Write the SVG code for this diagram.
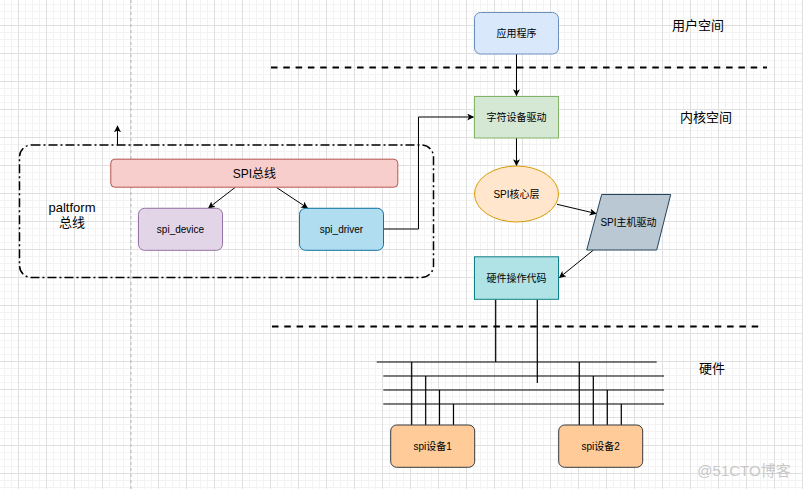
<svg xmlns="http://www.w3.org/2000/svg" width="803" height="489" viewBox="0 0 803 489">
<style>
text{font-family:"Liberation Sans","Noto Sans CJK SC",Arial,sans-serif;fill:#000;text-anchor:middle;dominant-baseline:central}
.s10{font-size:10px}
.s12{font-size:12px}
.s13{font-size:13px}
.conn{fill:none;stroke:#000;stroke-width:1}
.wire{fill:none;stroke:#000;stroke-width:1.2}
.sep{fill:none;stroke:#000;stroke-width:2.2;stroke-dasharray:6.5 5.8}
</style>
<defs>
<pattern id="grid" x="18" y="25" width="28" height="28" patternUnits="userSpaceOnUse">
<path d="M7.5 0V28M14.5 0V28M21.5 0V28M0 7.5H28M0 14.5H28M0 21.5H28" stroke="#f3f3f3" stroke-width="1" fill="none"/>
<path d="M0.5 0V28M0 0.5H28" stroke="#e0e0e0" stroke-width="1" fill="none"/>
</pattern>
<marker id="arr" viewBox="0 0 10 10" refX="9" refY="5" markerWidth="7" markerHeight="7" orient="auto" markerUnits="userSpaceOnUse">
<path d="M0 0L10 5L0 10L2.5 5Z" fill="#000"/>
</marker>
</defs>
<rect width="803" height="489" fill="#fff"/>
<rect width="803" height="489" fill="url(#grid)"/>
<line x1="131" y1="0" x2="131" y2="489" stroke="#b8b8b8" stroke-width="1" stroke-dasharray="3 3"/>

<g id="separators">
<line class="sep" x1="271" y1="67.5" x2="767" y2="67.5"/>
<line class="sep" x1="272" y1="326.5" x2="759" y2="326.5"/>
</g>

<g id="platform-group">
<rect x="19.5" y="145" width="414" height="132.5" rx="12" fill="none" stroke="#000" stroke-width="1.5" stroke-dasharray="9 3 2 3"/>
<text class="s13" x="72" y="207">paltform</text>
<text class="s13" x="72" y="222">总线</text>
</g>

<g id="labels">
<text class="s13" x="698" y="25">用户空间</text>
<text class="s13" x="706" y="117">内核空间</text>
<text class="s13" x="712" y="368">硬件</text>
<text x="744" y="470" style="font-size:15px;fill:#c8c8c8">@51CTO博客</text>
</g>

<g id="connectors">
<path class="conn" d="M117.5 145V126" marker-end="url(#arr)"/>
<path class="conn" d="M516.5 54V95.5" marker-end="url(#arr)"/>
<path class="conn" d="M516.5 138V165.5" marker-end="url(#arr)"/>
<path class="conn" d="M557 204.3L596 213.5" marker-end="url(#arr)"/>
<path class="conn" d="M593.5 250L559.5 277.5" marker-end="url(#arr)"/>
<path class="conn" d="M235 187.5L208.5 208" marker-end="url(#arr)"/>
<path class="conn" d="M276.5 187.5L307.5 208" marker-end="url(#arr)"/>
<path class="conn" d="M384 229H418.5V117H473.5" marker-end="url(#arr)"/>
<path class="wire" d="M495.7 299.5V362M537.3 299.5V383"/>
<path class="wire" d="M376.7 362H656.7M383.3 376H664M383.3 390H664M383.3 404H664"/>
<path class="wire" d="M411.7 362V425M425.7 376V425M439.5 390V425M453.5 404V425"/>
<path class="wire" d="M579.3 362V425M593.3 376V425M607.3 390V425M621.3 404V425"/>
</g>

<g id="app">
<rect x="474.5" y="12.5" width="84" height="41.5" rx="6" fill="#dae8fc" stroke="#6c8ebf"/>
<text class="s10" x="516.5" y="33.5">应用程序</text>
</g>
<g id="chardrv">
<rect x="474.5" y="96.5" width="84" height="41.5" fill="#d5e8d4" stroke="#82b366"/>
<text class="s10" x="516.5" y="117.5">字符设备驱动</text>
</g>
<g id="spicore">
<ellipse cx="516.5" cy="194" rx="42" ry="28" fill="#ffe6cc" stroke="#d79b00"/>
<text class="s10" x="516.5" y="194.5">SPI核心层</text>
</g>
<g id="spihost">
<path d="M601.7 194.5H670.7L656.7 250H586.7Z" fill="#bac8d3" stroke="#23445d"/>
<text class="s10" x="628.5" y="222.5">SPI主机驱动</text>
</g>
<g id="hwcode">
<rect x="474.5" y="256.8" width="84" height="42.5" fill="#b0e3e6" stroke="#0e8088"/>
<text class="s10" x="516.5" y="278.5">硬件操作代码</text>
</g>
<g id="spibus">
<rect x="110.8" y="159.2" width="287" height="28" rx="4" fill="#f8cecc" stroke="#b85450"/>
<text class="s12" x="254.3" y="173.5">SPI总线</text>
</g>
<g id="spidevice">
<rect x="138.5" y="208.3" width="84" height="42" rx="6" fill="#e1d5e7" stroke="#9673a6"/>
<text class="s10" x="180.5" y="229.5">spi_device</text>
</g>
<g id="spidriver">
<rect x="299.5" y="208.3" width="84" height="42" rx="6" fill="#b1ddf0" stroke="#10739e"/>
<text class="s10" x="341.5" y="229.5">spi_driver</text>
</g>
<g id="dev1">
<rect x="390.7" y="425" width="84" height="42.3" rx="6" fill="#ffcc99" stroke="#36393d"/>
<text class="s10" x="432.7" y="446.5">spi设备1</text>
</g>
<g id="dev2">
<rect x="558.7" y="425" width="84" height="42.3" rx="6" fill="#ffcc99" stroke="#36393d"/>
<text class="s10" x="600.7" y="446.5">spi设备2</text>
</g>
</svg>
